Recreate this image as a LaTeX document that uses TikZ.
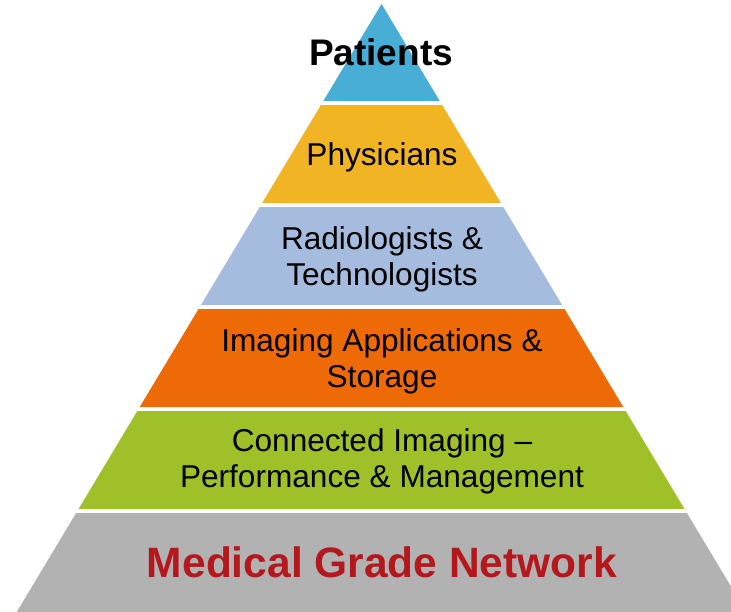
\documentclass[tikz,border=0pt]{standalone}
\usepackage{fontspec}
\setmainfont{Liberation Sans}
\usetikzlibrary{calc}
\definecolor{patientcolor}{RGB}{72,174,214}
\definecolor{physiciancolor}{RGB}{240,180,36}
\definecolor{radiologycolor}{RGB}{166,188,222}
\definecolor{imagingcolor}{RGB}{238,106,6}
\definecolor{connectcolor}{RGB}{160,192,42}
\definecolor{networkcolor}{RGB}{178,178,178}
\definecolor{redtext}{RGB}{180,24,28}

\begin{document}
\begin{tikzpicture}[x=1pt, y=-1pt,
                layertext/.style={anchor=base, align=center, inner sep=0pt, font=\fontsize{31.6}{35.5}\selectfont},
                toptext/.style={layertext, font=\bfseries\fontsize{37}{40}\selectfont},
                basetext/.style={layertext, text=redtext, font=\bfseries\fontsize{42.5}{48}\selectfont}]

                \useasboundingbox (0,0) rectangle (731,611);
                \clip (0,0) rectangle (731,611);

                % Layers
                \foreach \t/\b/\c in {4/101/patientcolor, 105/203/physiciancolor,
                                      207/305/radiologycolor, 309/407/imagingcolor,
                                      411/509/connectcolor, 513/650/networkcolor} {
                    \fill[\c] ({381.5-0.6*(\t-4)},\t) -- ({381.5+0.6*(\t-4)},\t)
                              -- ({381.5+0.6*(\b-4)},\b) -- ({381.5-0.6*(\b-4)},\b) -- cycle;
                }

                % Labels (multi-line nodes sit on their last baseline)
                \node[toptext] (patients) at (381,65) {Patients};
                \node[layertext] (physicians) at (382,165) {Physicians};
                \node[layertext] (radiologists) at (382,285) {Radiologists \&\\Technologists};
                \node[layertext] (imaging) at (382,387) {Imaging Applications \&\\Storage};
                \node[layertext] (connected) at (382,487) {Connected Imaging --\\Performance \& Management};
                \node[basetext] (network) at (382,577) {Medical Grade Network};

            \end{tikzpicture}
\end{document}
